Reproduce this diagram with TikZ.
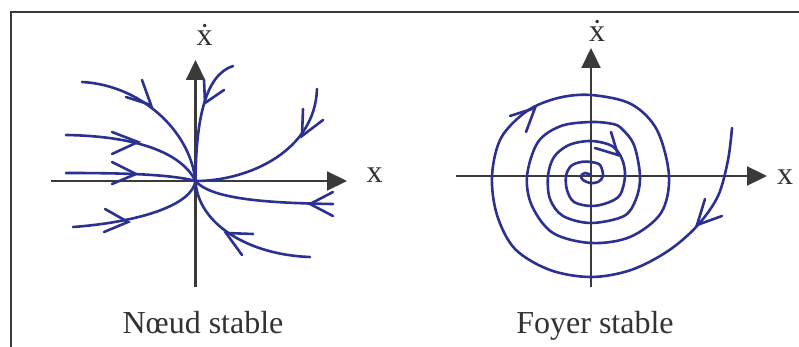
\documentclass[tikz,border=0pt]{standalone}
\usepackage{fontspec}
\setmainfont{Liberation Serif}
\usetikzlibrary{arrows.meta}
\definecolor{curveblue}{RGB}{43,49,145}
\definecolor{axisgray}{RGB}{58,58,58}
\definecolor{textgray}{RGB}{50,50,50}
\begin{document}
\begin{tikzpicture}[x=1pt,y=-1pt,
  traj/.style={draw=curveblue, line width=2.6pt, line cap=round},
  barb/.style={draw=curveblue, line width=2.6pt, line cap=round, line join=miter},
  axis/.style={draw=axisgray, line width=2.2pt, -{Triangle[length=20pt,width=19pt]}},
  framebox/.style={draw=axisgray, line width=1.5pt},
  lbl/.style={text=textgray, font=\fontsize{32}{38}\selectfont, inner sep=0pt, anchor=base}]
\useasboundingbox (0,0) rectangle (799,347);
% frame
\coordinate (fa) at (11,347);
\coordinate (fb) at (11,12);
\coordinate (fc) at (799,12);
\draw[framebox] (fa) -- (fb) -- (fc);

% ---------- left panel: node ----------
\coordinate (oL) at (195.5,181);
\coordinate (xsL) at (51,181);
\coordinate (xeL) at (347,181);
\coordinate (ysL) at (195.5,287);
\coordinate (yeL) at (195.5,60);
\draw[axis] (xsL) -- (xeL);
\draw[axis] (ysL) -- (yeL);
\node[lbl] (xdotL) at (204.5,46) {ẋ};
\node[lbl] (xL) at (374.5,183) {x};
\node[lbl] (titleL) at (203,333) {Nœud stable};

% trajectories
\draw[traj] (82,82) .. controls (140,85) and (190,130) .. (oL);
\draw[traj] (66,135) .. controls (130,136) and (180,150) .. (oL);
\draw[traj] (66,173) .. controls (120,173) and (170,174) .. (oL);
\draw[traj] (73,227) .. controls (140,222) and (192,205) .. (oL);
\draw[traj] (233,66) .. controls (205,75) and (196,120) .. (oL);
\draw[traj] (317,89) .. controls (315,150) and (250,181) .. (oL);
\draw[traj] (oL) .. controls (210,198) and (260,203) .. (333,204);
\draw[traj] (oL) .. controls (198,225) and (250,255) .. (310,257);
% arrow barbs
\draw[barb] (142,80) -- (151,105) -- (126,97);
\draw[barb] (112,132) -- (138,142) -- (112,154);
\draw[barb] (112,162) -- (136,174) -- (112,184);
\draw[barb] (105,209) -- (128,222) -- (104,232);
\draw[barb] (204,80) -- (205,103) -- (224,90);
\draw[barb] (303,109) -- (302,136) -- (323,120);
\draw[barb] (333,192) -- (310,204) -- (333,216);
\draw[barb] (253,234) -- (226,233) -- (242,255);

% ---------- right panel: focus ----------
\coordinate (oR) at (591,176);
\coordinate (xsR) at (456,176);
\coordinate (xeR) at (767,176);
\coordinate (ysR) at (591,287);
\coordinate (yeR) at (591,48);
\draw[axis] (xsR) -- (xeR);
\draw[axis] (ysR) -- (yeR);
\node[lbl] (xdotR) at (597,42) {ẋ};
\node[lbl] (xR) at (785,185) {x};
\node[lbl] (titleR) at (595,333) {Foyer stable};

\draw[traj, line join=round] plot[smooth, tension=0.55] coordinates {
 (732,128) (728,160) (718,196) (697,226) (668,251) (631,270) (591,277)
 (550,270) (515,249) (497,215) (492,176) (501,138) (527,111) (558,98) (591,95)
 (631,104) (657,130) (669,176) (661,213) (630,237) (591,243)
 (553,233) (532,206) (527,176) (538,142) (561,126) (591,122)
 (613,124) (622,129) (634,145) (640,176) (636,199) (624,216) (591,223)
 (563,216) (550,199) (548,176) (554,157) (569,145) (591,141)
 (612,146) (622,159) (625,176) (620,195) (607,203) (591,206)
 (574,202) (567,190) (566,176) (571,166) (581,162) (591,162)
 (600,165) (603,176) (598,182) (590,183) (583,180) (581,176) (585,173) (591,175)};
\draw[barb] (705,199) -- (697,225) -- (722,216);
\draw[barb] (510,116) -- (535,108) -- (526,132);
\draw[barb] (611,132) -- (618,155) -- (595,148);
\end{tikzpicture}
\end{document}
